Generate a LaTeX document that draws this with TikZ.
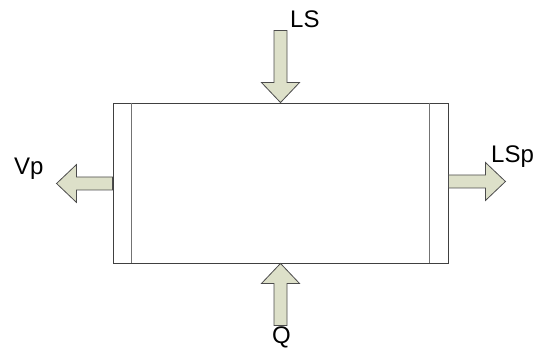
\documentclass[tikz,border=0pt]{standalone}
\usepackage{fontspec}
\setmainfont{Liberation Sans}
\usetikzlibrary{positioning,calc}

\definecolor{streamfill}{RGB}{221,224,201}
\tikzset{
  vessel/.style={draw=black!75,line width=0.9pt,minimum width=335pt,minimum height=160pt,inner sep=0pt},
  jacket/.style={draw=black!55,line width=0.9pt},
  streamarrow/.style={draw=black!70,fill=streamfill,line width=0.8pt,line join=miter},
  lbl/.style={font=\fontsize{24}{26}\selectfont,inner sep=0pt,anchor=base west}
}
% block arrow: tip point, direction, total length
\newcommand\flowarrow[3]{%
  \draw[streamarrow,shift={(#1)},rotate=#2] (0,0) -- (-20,19) -- (-20,6.5) -- (-#3,6.5)
    -- (-#3,-6.5) -- (-20,-6.5) -- (-20,-19) -- cycle;}

\begin{document}
\begin{tikzpicture}[x=1pt,y=1pt]
\useasboundingbox (0,0) rectangle (537,350);
% vessel with a jacket strip at each end
\node[vessel] (tank) at (280.5,167) {};
\draw[jacket] ([xshift=19pt]tank.north west) -- ([xshift=19pt]tank.south west);
\draw[jacket] ([xshift=-19pt]tank.north east) -- ([xshift=-19pt]tank.south east);
% streams in and out
\flowarrow{tank.north}{-90}{72}
\flowarrow{tank.south}{90}{62}
\flowarrow{$(tank.west)+(-56,-0.5)$}{180}{56}
\flowarrow{$(tank.east)+(57,1.5)$}{0}{57}
% stream names
\node[lbl] (ls) at (290,322) {LS};
\node[lbl] (q) at (272,6) {Q};
\node[lbl] (vp) at (14,175) {Vp};
\node[lbl] (lsp) at (491,187) {LSp};
\end{tikzpicture}
\end{document}
